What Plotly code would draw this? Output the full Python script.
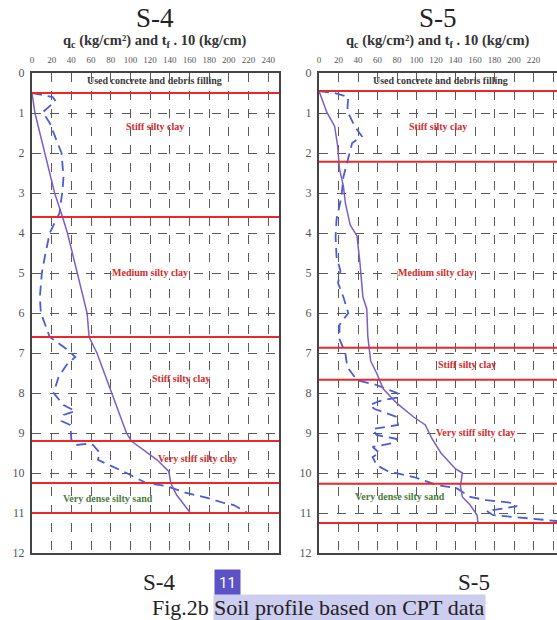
import plotly.graph_objects as go

W, H = 557, 620

# ---------------- data ----------------
x_ticks = [0, 20, 40, 60, 80, 100, 120, 140, 160, 180, 200, 220, 240]
depth_ticks = list(range(0, 13))

# S-4 : cone resistance qc (solid) and friction tf*10 (dashed)
s4_qc_depth = [0.5, 1.0, 2.0, 3.0, 3.6, 4.0, 5.0, 6.0, 6.6, 7.0, 8.0, 9.0, 9.2, 9.67, 9.96, 10.25, 10.55, 11.0]
s4_qc_val   = [0,   3,   13,  23,  31,  36,  46,  56,  58,  66,  81,  96,  101, 127,  139,  141,   147,   161]

s4_tf_depth = [0.5, 0.6, 0.7, 0.98, 1.25, 2.0, 2.6, 2.93, 3.5, 4.0, 4.6, 5.0, 5.6, 6.0, 6.6, 6.9, 7.1, 7.3, 7.6, 8.0, 8.3, 8.45, 8.55, 8.7, 8.8, 9.17, 9.3, 9.26, 9.3, 9.5, 9.67, 9.8, 10.0, 10.25, 10.33, 10.5, 10.62, 10.75, 10.8, 11.0]
s4_tf_val   = [0,   21,  24,  11,   18,   30,  32,  31,   28,  18,  13,  10,  8,   9,   18,  35,  44,  35,  27,  22,  32,  44,   32,   30,  39,  40,   45,  59,   62,  69,  67,   79,  96,   116,   137,   157,  178,   195,   205,  219]

# S-5
s5_qc_depth = [0.45, 0.98, 1.33, 1.8, 2.4, 2.83, 3.25, 3.8, 4.08, 4.75, 5.6, 5.9, 6.58, 7.2, 7.5, 7.9, 8.26, 8.6, 8.8, 9.15, 9.5, 9.9, 10.0, 10.33, 10.6, 10.8, 11.05, 11.25]
s5_qc_val   = [0,    8,    16,   19,  21,  25,   27,   32,  39,   42,   45,  49,  50,   53,  59,  66,  80,   97,  109, 116,  125, 140, 147,  145,   147,  155,  162,   163]

s5_tf_depth = [0.45, 0.5, 0.6, 0.95, 1.35, 1.58, 1.75, 2.15, 2.6, 3.1, 3.65, 4.1, 4.6, 4.95, 5.25, 5.6, 6.0, 6.3, 6.65, 7.0, 7.35, 7.68, 7.8, 8.0, 8.1, 8.2, 8.3, 8.4, 8.6, 8.8, 8.9, 9.05, 9.15, 9.25, 9.35, 9.5, 9.6, 9.8, 9.95, 10.1, 10.3, 10.38, 10.6, 10.68, 10.75, 10.83, 10.9, 10.95, 11.05, 11.1, 11.15, 11.2]
s5_tf_val   = [0,    16,  30,  29,   37,   44,   34,   30,   25,  23,  18,   17,  18,  22,   19.5, 25,  30,  21,  21,   27,  29,   39,   59,  80,  83,  62,  52,  57,  80,  81,  55,  59,   80,   76,   55,   62,  55,  59,  70,   97,   121,  141,   155,  172,   199,   203,   182,  172,   178,   199,  219,   244]

s4_bounds = [0.5, 3.6, 6.6, 9.2, 10.25, 11.0]
s5_bounds = [0.45, 2.22, 6.87, 7.67, 10.27, 11.25]

s4_layers = ["Used concrete and debris filling", "Stiff silty clay", "Medium silty clay",
             "Stiff silty clay", "Very stiff silty clay", "Very dense silty sand"]
s4_layer_depth = [0.2, 1.35, 5.0, 7.65, 9.65, 10.65]
s4_layer_x = [124, 125, 120, 151, 168, 77]

s5_layers = ["Used concrete and debris filling", "Stiff silty clay", "Medium silty clay",
             "Stiff silty clay", "Very stiff silty clay", "Very dense silty sand"]
s5_layer_depth = [0.2, 1.35, 5.0, 7.3, 9.0, 10.6]
s5_layer_x = [125, 122, 120, 152, 160, 83]

layer_colors = ["#3a3a3a", "#d22b2b", "#d22b2b", "#d22b2b", "#d22b2b", "#4b7d3c"]

# ---------------- figure ----------------
SOLID = "#7b5fc4"
DASH = "#4b5cd6"
RED = "#e8282a"
GRID = "#5a5a5a"
SERIF = "Liberation Serif"

fig = go.Figure()

panels = [
    ("x", "y", s4_qc_depth, s4_qc_val, s4_tf_depth, s4_tf_val),
    ("x2", "y2", s5_qc_depth, s5_qc_val, s5_tf_depth, s5_tf_val),
]
for xa, ya, qd, qv, td, tv in panels:
    fig.add_trace(go.Scatter(x=tv, y=td, mode="lines", xaxis=xa, yaxis=ya,
                             line=dict(color=DASH, width=1.8, dash="10px,6px"),
                             showlegend=False, hoverinfo="skip"))
    fig.add_trace(go.Scatter(x=qv, y=qd, mode="lines", xaxis=xa, yaxis=ya,
                             line=dict(color=SOLID, width=1.5),
                             showlegend=False, hoverinfo="skip"))

ydom = [1 - 553 / H, 1 - 73 / H]
axis_common = dict(
    side="top", tickvals=x_ticks, ticktext=[str(v) for v in x_ticks],
    tickfont=dict(family=SERIF, size=9, color="#555"),
    showgrid=True, gridcolor=GRID, griddash="dash", gridwidth=1.3,
    showline=True, linecolor="#444", linewidth=2, mirror=True,
    ticks="outside", ticklen=4, tickcolor="rgba(0,0,0,0)", zeroline=False,
    automargin=False,
)
yaxis_common = dict(
    range=[12, 0], domain=ydom, tickvals=depth_ticks,
    tickfont=dict(family=SERIF, size=12, color="#555"),
    showgrid=True, gridcolor=GRID, griddash="dash", gridwidth=1.3,
    showline=True, linecolor="#444", linewidth=2,
    ticks="outside", ticklen=3, tickcolor="rgba(0,0,0,0)", zeroline=False,
    automargin=False,
)

fig.update_layout(
    template="none",
    width=W, height=H, margin=dict(l=0, r=0, t=0, b=0, autoexpand=False),
    paper_bgcolor="white", plot_bgcolor="white",
    xaxis=dict(domain=[32 / W, 279 / W], range=[0, 251], anchor="y", **axis_common),
    yaxis=dict(anchor="x", mirror=True, **yaxis_common),
    xaxis2=dict(domain=[319 / W, 1], range=[0, 244], anchor="y2", **axis_common),
    yaxis2=dict(anchor="x2", mirror=False, **yaxis_common),
)

# layer boundaries
for xa, bounds in (("x", s4_bounds), ("x2", s5_bounds)):
    ya = "y" if xa == "x" else "y2"
    for b in bounds:
        fig.add_shape(type="line", xref=f"{xa} domain", yref=ya, x0=0, x1=1, y0=b, y1=b,
                      line=dict(color=RED, width=2))

# layer labels
for xa, ya, names, depths, xs in (("x", "y", s4_layers, s4_layer_depth, s4_layer_x),
                                   ("x2", "y2", s5_layers, s5_layer_depth, s5_layer_x)):
    for name, d, xv, c in zip(names, depths, xs, layer_colors):
        on_grid = abs(d - round(d)) < 0.05
        fig.add_annotation(x=xv, y=d, xref=xa, yref=ya, text=f"<b>{name}</b>", showarrow=False,
                           font=dict(family=SERIF, size=10, color=c),
                           bgcolor="white" if on_grid else None, borderpad=0)

# titles
sub = "<b>q<sub>c</sub> (kg/cm²) and t<sub>f</sub> . 10 (kg/cm)</b>"
for cx, name in ((155, "S-4"), (438, "S-5")):
    fig.add_annotation(x=cx / W, y=1 - 18 / H, xref="paper", yref="paper", text=name,
                       xanchor="center", yanchor="middle",
                       showarrow=False, font=dict(family=SERIF, size=27, color="#222"))
    fig.add_annotation(x=cx / W, y=1 - 41 / H, xref="paper", yref="paper", text=sub,
                       xanchor="center", yanchor="middle",
                       showarrow=False, font=dict(family=SERIF, size=14.5, color="#333"))

# bottom captions
fig.add_annotation(x=159 / W, y=1 - 582 / H, xref="paper", yref="paper", text="S-4",
                   xanchor="center", yanchor="middle",
                   showarrow=False, font=dict(family=SERIF, size=23, color="#222"))
fig.add_annotation(x=474 / W, y=1 - 582 / H, xref="paper", yref="paper", text="S-5",
                   xanchor="center", yanchor="middle",
                   showarrow=False, font=dict(family=SERIF, size=23, color="#222"))
fig.add_annotation(x=227 / W, y=1 - 583 / H, xref="paper", yref="paper", text="11",
                   xanchor="center", yanchor="middle",
                   showarrow=False, font=dict(family="Roboto", size=15, color="white"),
                   bgcolor="#5a52c6", borderpad=4)
fig.add_annotation(x=211 / W, y=1 - 607 / H, xref="paper", yref="paper", text="Fig.2b",
                   xanchor="right", yanchor="middle",
                   showarrow=False, font=dict(family=SERIF, size=22, color="#222"))
fig.add_annotation(x=213 / W, y=1 - 607 / H, xref="paper", yref="paper",
                   text="Soil profile based on CPT data", xanchor="left", yanchor="middle",
                   showarrow=False,
                   font=dict(family=SERIF, size=22, color="#222"), bgcolor="#cdcdf0", borderpad=0)

fig.write_html("out.html", config={"displayModeBar": False},
               post_script="document.body.style.margin='0';")
